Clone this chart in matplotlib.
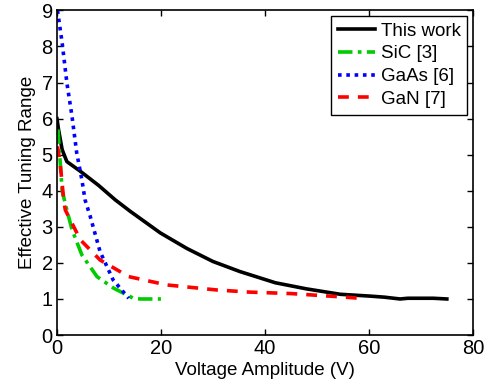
import matplotlib
matplotlib.use("Agg")
import matplotlib.pyplot as plt

plt.rcParams['font.family'] = ['Liberation Sans', 'DejaVu Sans']

# This work
v_this = [0, 0.3, 1, 1.9, 4.5, 8, 11.2, 14.1, 19.9, 25, 30, 35.2, 42, 48, 54.5, 60.2, 63, 66, 67.5, 72.4, 75]
r_this = [6.0, 5.7, 5.14, 4.81, 4.54, 4.15, 3.75, 3.43, 2.83, 2.4, 2.04, 1.76, 1.45, 1.28, 1.13, 1.08, 1.05, 1.0, 1.02, 1.02, 1.0]

# SiC [3]
v_sic = [0.2, 0.5, 1, 1.9, 2.9, 4.8, 7.7, 10.9, 14.7, 16, 20]
r_sic = [5.7, 5.05, 4.0, 3.47, 2.92, 2.22, 1.62, 1.30, 1.02, 1.0, 1.0]

# GaAs [6]
v_gaas = [0.1, 1, 1.9, 2.9, 3.8, 4.8, 5.4, 6.4, 8.3, 10.8, 13.8]
r_gaas = [9.0, 8.1, 7.0, 6.06, 5.05, 4.3, 3.75, 3.29, 2.31, 1.53, 1.02]

# GaN [7]
v_gan = [0.1, 0.6, 1.3, 1.6, 4.5, 8.3, 13.8, 21.1, 30.7, 37.1, 45, 54.5, 58.3]
r_gan = [5.23, 4.78, 3.75, 3.47, 2.64, 2.08, 1.62, 1.39, 1.25, 1.19, 1.15, 1.06, 1.02]

fig = plt.figure(figsize=(4.91, 3.86), dpi=100)
ax = fig.add_axes([0.116, 0.132, 0.847, 0.841])

ax.plot(v_this, r_this, color='black', lw=2.6, label='This work')
ax.plot(v_sic, r_sic, color='#00cc00', lw=2.6, ls=(0, (4, 1.5, 1, 1.5)), label='SiC [3]')
ax.plot(v_gaas, r_gaas, color='#0000ff', lw=2.6, ls=(0, (1, 1.3)), label='GaAs [6]')
ax.plot(v_gan, r_gan, color='#ff0000', lw=2.6, ls=(0, (3, 2.5)), label='GaN [7]')

ax.set_xlim(0, 80)
ax.set_ylim(0, 9)
ax.set_xticks([0, 20, 40, 60, 80])
ax.set_yticks(range(10))
ax.tick_params(direction='in', labelsize=14.5, top=True, right=True, length=4, width=1, pad=3)
ax.set_xlabel('Voltage Amplitude (V)', fontsize=13.5, labelpad=3)
ax.set_ylabel('Effective Tuning Range', fontsize=13.5, labelpad=4)
for s in ax.spines.values():
    s.set_linewidth(1.2)

leg = ax.legend(loc='upper right', fontsize=13.5, fancybox=False, framealpha=1,
                edgecolor='black', handlelength=2.0, handletextpad=0.3,
                labelspacing=0.3, borderpad=0.35, borderaxespad=0.3)
leg.get_frame().set_linewidth(1.0)

fig.savefig('out.png', dpi=100)
